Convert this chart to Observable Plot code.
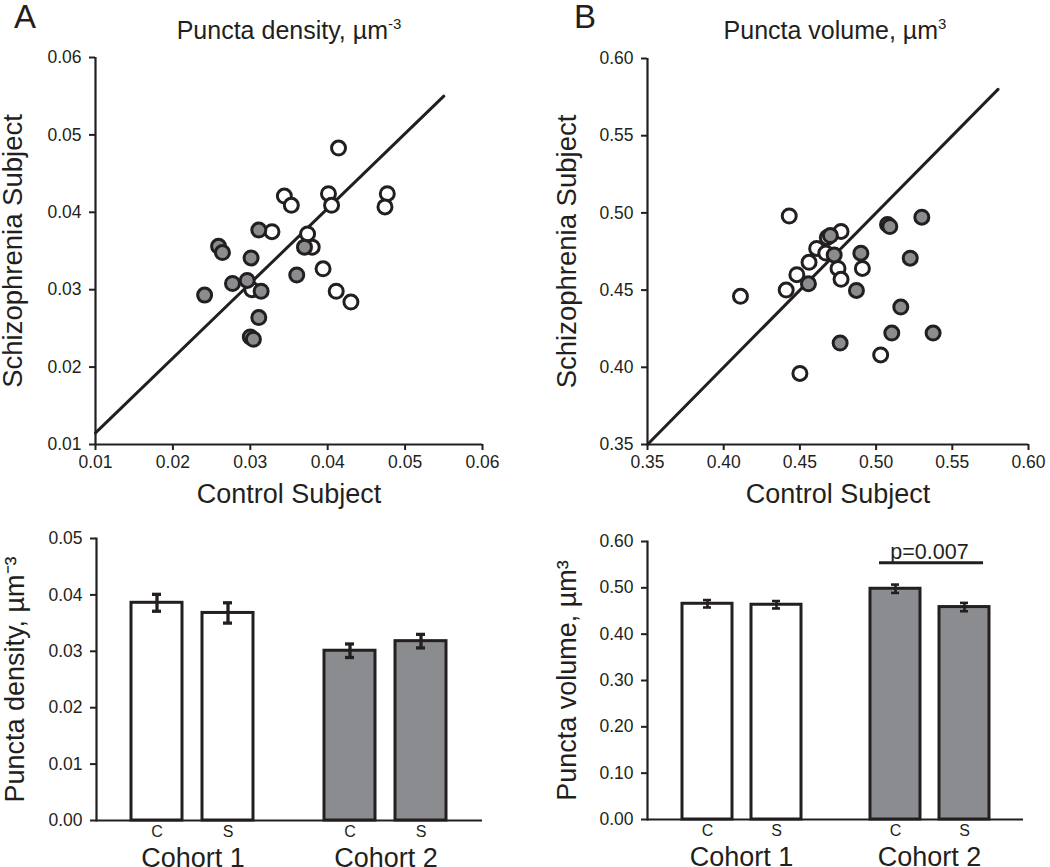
<!DOCTYPE html>
<html>
<head>
<meta charset="utf-8">
<script src="https://cdn.jsdelivr.net/npm/d3@7"></script>
<script src="https://cdn.jsdelivr.net/npm/@observablehq/plot@0.6"></script>
<style>
  html, body { margin: 0; padding: 0; background: #fff; }
  #fig { position: relative; width: 1050px; height: 867px; overflow: hidden; background: #fff;
         font-family: "Liberation Sans", Arial, Helvetica, sans-serif; color: #231f20; }
  .panel { position: absolute; }
  .letter { position: absolute; font-size: 33px; line-height: 33px; }
  .title { position: absolute; font-size: 25px; line-height: 25px; white-space: nowrap; transform: translateX(-50%); }
  .title sup { font-size: 15px; vertical-align: 10px; line-height: 0; }
</style>
</head>
<body>
<div id="fig">
  <div class="letter" style="left:14px; top:0px;">A</div>
  <div class="letter" style="left:574px; top:0px;">B</div>
  <div class="title" style="left:289px; top:18px;">Puncta density, µm<sup>-3</sup></div>
  <div class="title" style="left:835px; top:18px;">Puncta volume, µm<sup>3</sup></div>
  <div class="panel" id="scatterA" style="left:0px; top:0px;"></div>
  <div class="panel" id="scatterB" style="left:520px; top:0px;"></div>
  <div class="panel" id="barA" style="left:0px; top:510px;"></div>
  <div class="panel" id="barB" style="left:520px; top:510px;"></div>
</div>
<script>
// ---------- DATA ----------
// Panel A scatter: puncta density (µm^-3), one point per subject pair
const densityCohort1Control = [0.0414, 0.0401, 0.0405, 0.0477, 0.0474, 0.0344, 0.0353, 0.0328, 0.0374, 0.0380, 0.0394, 0.0411, 0.0430, 0.0302];
const densityCohort1Schizo  = [0.0483, 0.0424, 0.0409, 0.0424, 0.0407, 0.0421, 0.0409, 0.0375, 0.0372, 0.0355, 0.0327, 0.0298, 0.0284, 0.0300];
const densityCohort2Control = [0.0259, 0.0264, 0.0311, 0.0301, 0.0277, 0.0296, 0.0314, 0.0241, 0.0360, 0.0370, 0.0311, 0.0300, 0.0304];
const densityCohort2Schizo  = [0.0356, 0.0348, 0.0377, 0.0341, 0.0308, 0.0312, 0.0298, 0.0293, 0.0319, 0.0355, 0.0264, 0.0239, 0.0236];
const densityReferenceLine  = [[0.01, 0.0115], [0.055, 0.055]];

// Panel B scatter: puncta volume (µm^3)
const volumeCohort1Control = [0.443, 0.411, 0.441, 0.448, 0.456, 0.461, 0.467, 0.468, 0.477, 0.475, 0.477, 0.491, 0.503, 0.450];
const volumeCohort1Schizo  = [0.498, 0.446, 0.450, 0.460, 0.468, 0.477, 0.474, 0.484, 0.488, 0.464, 0.457, 0.464, 0.408, 0.396];
const volumeCohort2Control = [0.470, 0.4725, 0.4556, 0.490, 0.4871, 0.5075, 0.509, 0.530, 0.5224, 0.5162, 0.5103, 0.5374, 0.4764];
const volumeCohort2Schizo  = [0.4853, 0.4728, 0.4541, 0.4739, 0.4498, 0.4925, 0.4912, 0.4972, 0.4707, 0.4390, 0.4222, 0.4222, 0.4157];
const volumeReferenceLine  = [[0.35, 0.35], [0.58, 0.58]];

// Bar charts (mean ± SEM)
const barCohorts = ["Cohort 1", "Cohort 1", "Cohort 2", "Cohort 2"];
const barGroups  = ["C", "S", "C", "S"];
const densityMeans = [0.0386, 0.0368, 0.0301, 0.0318];
const densitySEM   = [0.0015, 0.0018, 0.0012, 0.0012];
const volumeMeans  = [0.4656, 0.4635, 0.4980, 0.4585];
const volumeSEM    = [0.0080, 0.0080, 0.0090, 0.0090];
const volumePLabel = "p=0.007";
const volumePBracket = 0.554;

// Tick labels
const densityScatterTicks = [0.01, 0.02, 0.03, 0.04, 0.05, 0.06];
const volumeScatterTicks  = [0.35, 0.40, 0.45, 0.50, 0.55, 0.60];
const densityBarTicks = [0, 0.01, 0.02, 0.03, 0.04, 0.05];
const volumeBarTicks  = [0, 0.1, 0.2, 0.3, 0.4, 0.5, 0.6];

// ---------- DRAWING ----------
const ink = "#231f20";
const gray = "#8b8c8f";
const fmt = d3.format(".2f");
const baseStyle = {fontFamily: '"Liberation Sans", Arial, Helvetica, sans-serif', color: ink, background: "transparent", overflow: "visible"};

function pairs(xs, ys) { return xs.map((x, i) => ({control: x, schizo: ys[i]})); }

function scatter({ticks, c1x, c1y, c2x, c2y, refLine, width, marginLeft, marginRight, marginTop, yLabelDx}) {
  const domain = [ticks[0], ticks[ticks.length - 1]];
  return Plot.plot({
    width, height: 510, marginLeft, marginRight, marginTop, marginBottom: 66,
    style: baseStyle,
    x: {domain, axis: null},
    y: {domain, axis: null},
    marks: [
      Plot.line(refLine, {x: d => d[0], y: d => d[1], stroke: ink, strokeWidth: 3}),
      Plot.dot(pairs(c1x, c1y), {x: "control", y: "schizo", r: 7, fill: "white", stroke: ink, strokeWidth: 3}),
      Plot.dot(pairs(c2x, c2y), {x: "control", y: "schizo", r: 7, fill: gray, stroke: ink, strokeWidth: 3}),
      Plot.ruleX([domain[0]], {stroke: ink, strokeWidth: 2.2}),
      Plot.ruleY([domain[0]], {stroke: ink, strokeWidth: 2.2}),
      Plot.axisX({ticks, tickFormat: fmt, tickSize: 6, tickPadding: 5, fontSize: 17.5, label: null, stroke: ink, strokeWidth: 2, fill: ink}),
      Plot.axisY({ticks, tickFormat: fmt, tickSize: 6, tickPadding: 8, fontSize: 17.5, label: null, stroke: ink, strokeWidth: 2, fill: ink}),
      Plot.text(["Schizophrenia Subject"], {text: d => d, frameAnchor: "left", textAnchor: "middle", lineAnchor: "middle", dx: yLabelDx, rotate: -90, fontSize: 27.5, fill: ink}),
      Plot.text(["Control Subject"], {text: d => d, frameAnchor: "bottom", textAnchor: "middle", lineAnchor: "middle", dy: 50, fontSize: 27, fill: ink})
    ]
  });
}

function bars({means, sems, ticks, width, marginLeft, marginRight, marginTop, marginBottom, yLabel, yLabelDx, capInset, errWidth, extra = []}) {
  const data = means.map((m, i) => ({cohort: barCohorts[i], group: barGroups[i], mean: m, sem: sems[i]}));
  const domain = [ticks[0], ticks[ticks.length - 1]];
  return Plot.plot({
    width, height: 357, marginLeft, marginRight, marginTop, marginBottom,
    style: baseStyle,
    fx: {domain: ["Cohort 1", "Cohort 2"], padding: 0, axis: null, label: null},
    x: {domain: ["C", "S"], paddingInner: 0.278, paddingOuter: 0.483, axis: null, label: null},
    y: {domain, axis: null},
    color: {type: "identity"},
    marks: [
      Plot.barY(data, {fx: "cohort", x: "group", y: "mean", fill: d => d.cohort === "Cohort 1" ? "white" : gray, stroke: ink, strokeWidth: 3}),
      Plot.ruleX(data, {fx: "cohort", x: "group", y1: d => d.mean - d.sem, y2: d => d.mean + d.sem, stroke: ink, strokeWidth: errWidth}),
      Plot.tickY(data, {fx: "cohort", x: "group", y: d => d.mean - d.sem, insetLeft: capInset, insetRight: capInset, stroke: ink, strokeWidth: errWidth}),
      Plot.tickY(data, {fx: "cohort", x: "group", y: d => d.mean + d.sem, insetLeft: capInset, insetRight: capInset, stroke: ink, strokeWidth: errWidth}),
      Plot.ruleY([domain[0]], {stroke: ink, strokeWidth: 2.2}),
      Plot.frame({anchor: "left", fx: ["Cohort 1"], stroke: ink, strokeWidth: 2.2}),
      Plot.axisX({tickSize: 0, tickPadding: 5, fontSize: 16, label: null, fill: ink}),
      Plot.axisFx({anchor: "bottom", tickSize: 0, tickPadding: 27, fontSize: 27, label: null, fill: ink}),
      Plot.axisY({ticks, tickFormat: fmt, tickSize: 6, tickPadding: 8, fontSize: 17.5, label: null, stroke: ink, strokeWidth: 2, fill: ink}),
      Plot.text([yLabel], {text: d => d, fx: ["Cohort 1"], frameAnchor: "left", textAnchor: "middle", lineAnchor: "middle", dx: yLabelDx, rotate: -90, fontSize: 27, fill: ink}),
      ...extra
    ]
  });
}

document.getElementById("scatterA").append(scatter({
  ticks: densityScatterTicks, c1x: densityCohort1Control, c1y: densityCohort1Schizo,
  c2x: densityCohort2Control, c2y: densityCohort2Schizo, refLine: densityReferenceLine,
  width: 520, marginLeft: 95, marginRight: 38, marginTop: 57, yLabelDx: -82
}));
document.getElementById("scatterB").append(scatter({
  ticks: volumeScatterTicks, c1x: volumeCohort1Control, c1y: volumeCohort1Schizo,
  c2x: volumeCohort2Control, c2y: volumeCohort2Schizo, refLine: volumeReferenceLine,
  width: 530, marginLeft: 127, marginRight: 22, marginTop: 58, yLabelDx: -80
}));
document.getElementById("barA").append(bars({
  means: densityMeans, sems: densitySEM, ticks: densityBarTicks,
  width: 520, marginLeft: 95, marginRight: 38, marginTop: 28, marginBottom: 47,
  yLabel: "Puncta density, µm⁻³", yLabelDx: -81, capInset: 21, errWidth: 3.3
}));
document.getElementById("barB").append(bars({
  means: volumeMeans, sems: volumeSEM, ticks: volumeBarTicks,
  width: 530, marginLeft: 127, marginRight: 27, marginTop: 31, marginBottom: 48,
  yLabel: "Puncta volume, µm³", yLabelDx: -80, capInset: 21, errWidth: 2.6,
  extra: [
    Plot.ruleY([volumePBracket], {fx: ["Cohort 2"], insetLeft: 44, insetRight: 40, stroke: ink, strokeWidth: 3}),
    Plot.text([volumePLabel], {text: d => d, fx: ["Cohort 2"], y: [volumePBracket], lineAnchor: "bottom", dy: -4, fontSize: 21.5, fill: ink})
  ]
}));
</script>
</body>
</html>
